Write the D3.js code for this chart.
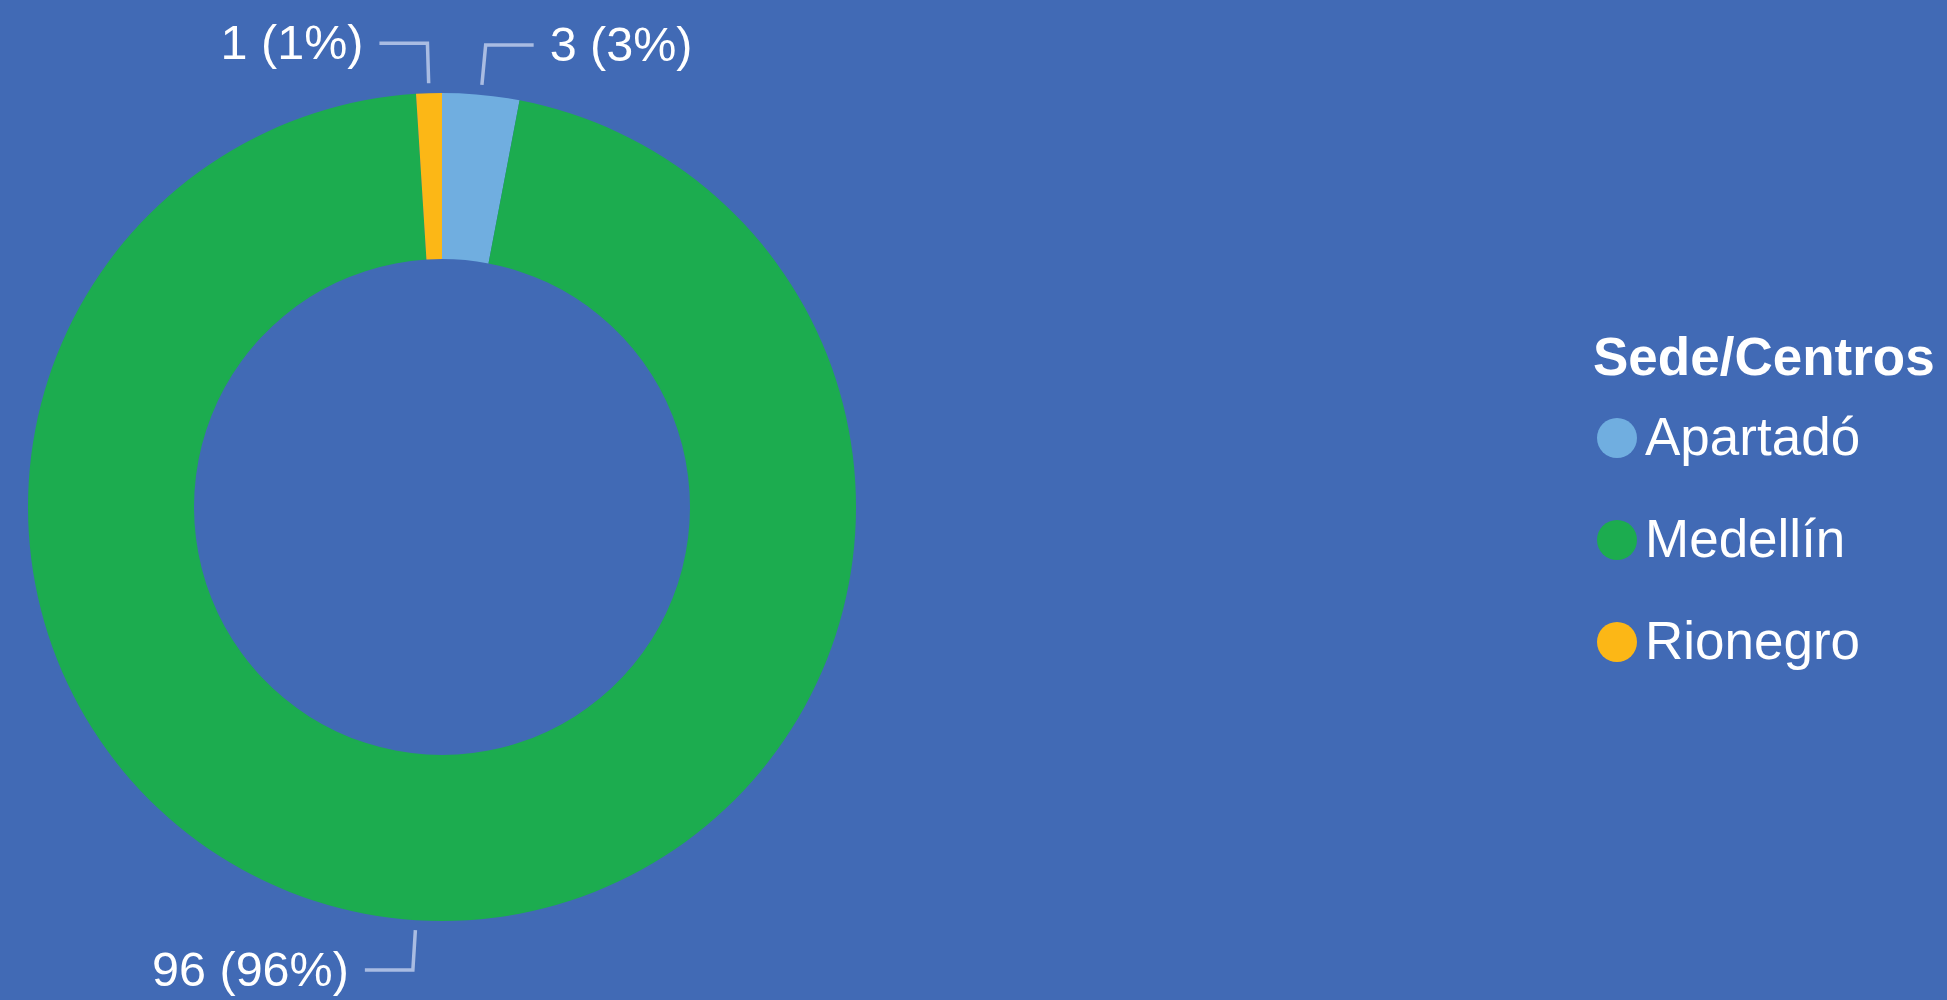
<!DOCTYPE html>
<html>
<head>
<meta charset="utf-8">
<script src="https://cdn.jsdelivr.net/npm/d3@7"></script>
<style>
html,body{margin:0;padding:0;background:#416AB5;}
svg{display:block;}
text{font-family:"Liberation Sans",Arial,sans-serif;fill:#fff;}
</style>
</head>
<body>
<svg id="chart" width="1947" height="1000"></svg>
<script>
const categories = ["Apartadó", "Medellín", "Rionegro"];
const values = [3, 96, 1];
const percents = ["3%", "96%", "1%"];
const colors = ["#70AEE0", "#1CAC4F", "#FCB716"];
const legendTitle = "Sede/Centros";

const W = 1947, H = 1000;
const svg = d3.select("#chart");
svg.append("rect").attr("width", W).attr("height", H).attr("fill", "#416AB5");

const cx = 442, cy = 507, rOuter = 414, rInner = 248;
const data = categories.map((c, i) => ({cat: c, value: values[i], pct: percents[i], color: colors[i]}));

const pie = d3.pie().value(d => d.value).sort(null);
const arcs = pie(data);
const arc = d3.arc().innerRadius(rInner).outerRadius(rOuter);

const g = svg.append("g").attr("transform", `translate(${cx},${cy})`);
g.selectAll("path.slice").data(arcs).enter().append("path")
  .attr("class", "slice")
  .attr("d", arc)
  .attr("fill", d => d.data.color);

// label leader lines
const r1 = 424, r2 = 464, hLen = 48, gap = 16;
arcs.forEach(a => {
  const mid = (a.startAngle + a.endAngle) / 2;
  const p1 = [r1 * Math.sin(mid), -r1 * Math.cos(mid)];
  const p2 = [r2 * Math.sin(mid), -r2 * Math.cos(mid)];
  const right = Math.sin(mid) >= 0;
  const p3 = [p2[0] + (right ? hLen : -hLen), p2[1]];
  g.append("polyline")
    .attr("points", [p1, p2, p3].map(p => p.join(",")).join(" "))
    .attr("fill", "none")
    .attr("stroke", "#A9BCE2")
    .attr("stroke-width", 3.5);
  g.append("text")
    .attr("x", p3[0] + (right ? gap : -gap))
    .attr("y", p3[1] + 16)
    .attr("text-anchor", right ? "start" : "end")
    .attr("font-size", 48.5)
    .text(`${a.data.value} (${a.data.pct})`);
});

// legend
const lg = svg.append("g");
lg.append("text").attr("x", 1593).attr("y", 375)
  .attr("font-size", 53).attr("font-weight", "bold").text(legendTitle);
const ly = d3.scalePoint().domain(categories).range([438, 642]);
categories.forEach((c, i) => {
  lg.append("circle").attr("cx", 1617).attr("cy", ly(c)).attr("r", 20).attr("fill", colors[i]);
  lg.append("text").attr("x", 1645).attr("y", ly(c) + 17).attr("font-size", 53).text(c);
});
</script>
</body>
</html>
